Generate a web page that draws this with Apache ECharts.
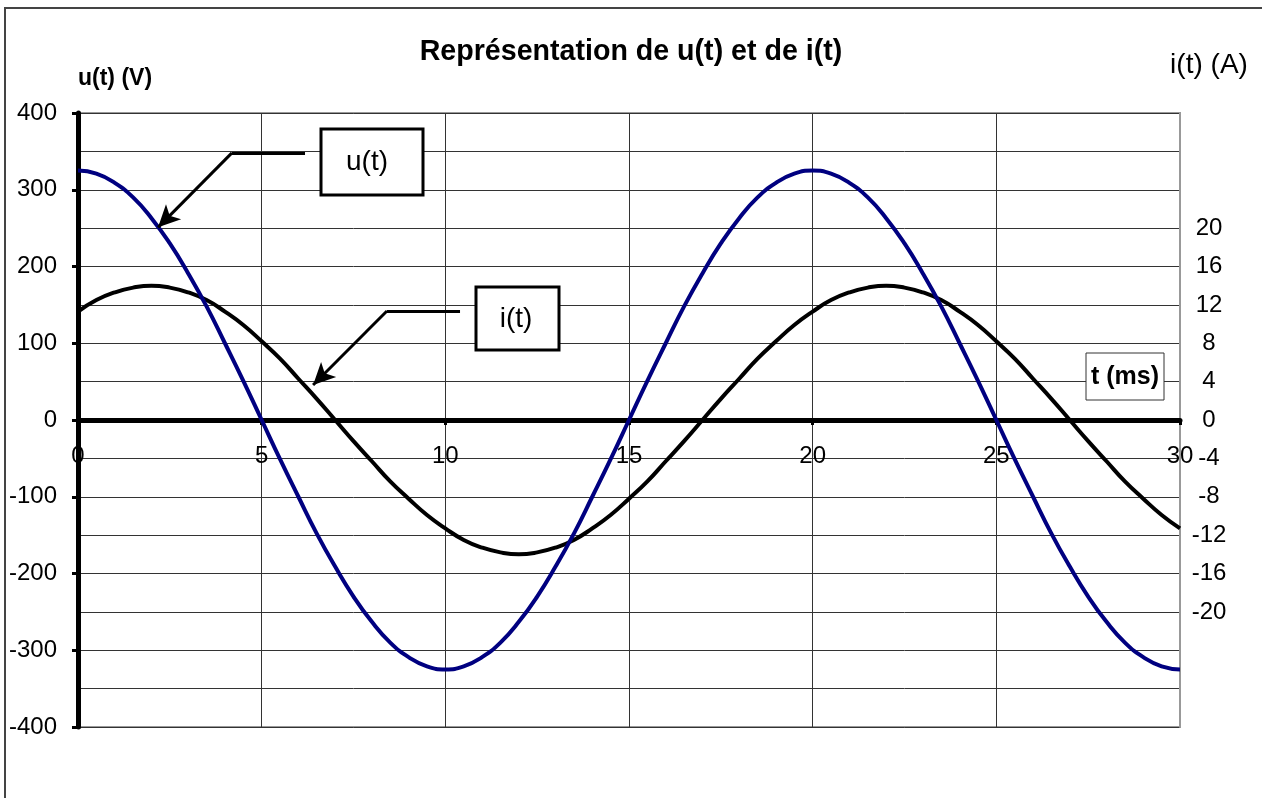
<!DOCTYPE html>
<html>
<head>
<meta charset="utf-8">
<title>u(t) et i(t)</title>
<script src="https://cdn.jsdelivr.net/npm/echarts@6/dist/echarts.min.js"></script>
<style>
    html, body { margin: 0; padding: 0; background: #fff; }
    #main { width: 1262px; height: 798px; }
</style>
</head>
<body>
<div id="main"></div>
<script>
// temps (ms)
let tValues = [0, 0.5, 1, 1.5, 2, 2.5, 3, 3.5, 4, 4.5, 5, 5.5, 6, 6.5, 7, 7.5, 8, 8.5, 9, 9.5,
    10, 10.5, 11, 11.5, 12, 12.5, 13, 13.5, 14, 14.5, 15, 15.5, 16, 16.5, 17, 17.5, 18, 18.5, 19, 19.5,
    20, 20.5, 21, 21.5, 22, 22.5, 23, 23.5, 24, 24.5, 25, 25.5, 26, 26.5, 27, 27.5, 28, 28.5, 29, 29.5, 30];

// tension u(t) en V
let uValues = [325, 321, 309, 290, 263, 230, 191, 148, 100, 51,
    0, -51, -100, -148, -191, -230, -263, -290, -309, -321,
    -325, -321, -309, -290, -263, -230, -191, -148, -100, -51,
    0, 51, 100, 148, 191, 230, 263, 290, 309, 321,
    325, 321, 309, 290, 263, 230, 191, 148, 100, 51,
    0, -51, -100, -148, -191, -230, -263, -290, -309, -321, -325];

// intensite i(t) en A
let iValues = [11.3, 12.5, 13.3, 13.8, 14, 13.8, 13.3, 12.5, 11.3, 9.9,
    8.2, 6.4, 4.3, 2.2, 0, -2.2, -4.3, -6.4, -8.2, -9.9,
    -11.3, -12.5, -13.3, -13.8, -14, -13.8, -13.3, -12.5, -11.3, -9.9,
    -8.2, -6.4, -4.3, -2.2, 0, 2.2, 4.3, 6.4, 8.2, 9.9,
    11.3, 12.5, 13.3, 13.8, 14, 13.8, 13.3, 12.5, 11.3, 9.9,
    8.2, 6.4, 4.3, 2.2, 0, -2.2, -4.3, -6.4, -8.2, -9.9, -11.3];

let titleText = 'Représentation de u(t) et de i(t)';
let uAxisName = 'u(t) (V)';
let iAxisName = 'i(t) (A)';
let tAxisName = 't (ms)';

let font = "'Liberation Sans', Arial, sans-serif";

let myChart = echarts.init(document.getElementById('main'));

let uData = tValues.map((t, k) => [t, uValues[k]]);
let iData = tValues.map((t, k) => [t, iValues[k]]);

let arrowStyle = {
    color: '#000',
    width: 3,
    type: 'solid'
};

let option = {
    animation: false,
    textStyle: { fontFamily: font },
    title: {
        text: titleText,
        left: 'center',
        top: 38,
        padding: 0,
        textStyle: { fontFamily: font, fontSize: 28.6, fontWeight: 'bold', color: '#000' }
    },
    grid: {
        left: 78,
        right: 82,
        top: 113,
        bottom: 71,
        show: true,
        borderColor: '#999',
        borderWidth: 2
    },
    xAxis: {
        type: 'value',
        min: 0,
        max: 30,
        interval: 5,
        position: 'bottom',
        // l'axe des temps passe par 0 : on le remonte au milieu du repere
        offset: -307,
        axisLine: { onZero: false, lineStyle: { color: '#000', width: 5 } },
        axisTick: { show: true, length: 5, lineStyle: { color: '#000', width: 3 } },
        axisLabel: { fontSize: 24, color: '#000', margin: 24, fontFamily: font },
        splitLine: { show: true, lineStyle: { color: '#333', width: 1 } }
    },
    yAxis: [
        {
            type: 'value',
            min: -400,
            max: 400,
            interval: 100,
            name: uAxisName,
            nameLocation: 'end',
            nameGap: 23,
            nameTextStyle: { fontFamily: font, fontSize: 23, fontWeight: 'bold', color: '#000', align: 'left' },
            axisLine: { show: true, onZero: false, lineStyle: { color: '#000', width: 5 } },
            axisTick: { show: true, length: 6, lineStyle: { color: '#000', width: 3 } },
            axisLabel: { fontSize: 24, color: '#000', margin: 21, fontFamily: font },
            splitLine: { show: true, lineStyle: { color: '#333', width: 1 } },
            minorTick: { show: false, splitNumber: 2 },
            minorSplitLine: { show: true, lineStyle: { color: '#333', width: 1 } }
        },
        {
            type: 'value',
            position: 'right',
            min: -32,
            max: 32,
            interval: 4,
            axisLine: { show: true, onZero: false, lineStyle: { color: '#999', width: 2 } },
            axisTick: { show: false },
            axisLabel: {
                fontSize: 24,
                color: '#000',
                margin: 29,
                align: 'center',
                fontFamily: font,
                formatter: (v) => (Math.abs(v) > 20 ? '' : String(v))
            },
            splitLine: { show: false }
        }
    ],
    series: [
        {
            name: 'i(t)',
            type: 'line',
            yAxisIndex: 1,
            data: iData,
            smooth: true,
            showSymbol: false,
            silent: true,
            lineStyle: { color: '#000', width: 4 },
            markLine: {
                silent: true,
                animation: false,
                label: { show: false },
                lineStyle: arrowStyle,
                emphasis: { disabled: true },
                data: [
                    [{ coord: [10.4, 11.36], symbol: 'none' }, { coord: [8.41, 11.36], symbol: 'none' }],
                    [{ coord: [8.41, 11.36], symbol: 'none' }, { coord: [6.4, 3.65], symbol: 'arrow', symbolSize: [16, 22] }]
                ]
            }
        },
        {
            name: 'u(t)',
            type: 'line',
            yAxisIndex: 0,
            data: uData,
            smooth: true,
            showSymbol: false,
            silent: true,
            lineStyle: { color: '#000080', width: 4 },
            markLine: {
                silent: true,
                animation: false,
                label: { show: false },
                lineStyle: arrowStyle,
                emphasis: { disabled: true },
                data: [
                    [{ coord: [6.18, 348], symbol: 'none' }, { coord: [4.19, 348], symbol: 'none' }],
                    [{ coord: [4.19, 348], symbol: 'none' }, { coord: [2.18, 251], symbol: 'arrow', symbolSize: [16, 22] }]
                ]
            }
        }
    ],
    graphic: [
        // cadre exterieur
        {
            type: 'rect',
            silent: true,
            shape: { x: 5, y: 8, width: 1270, height: 800 },
            style: { fill: 'none', stroke: '#444', lineWidth: 2 }
        },
        // nom de l'axe de droite
        {
            type: 'text',
            style: { text: iAxisName, x: 1209, y: 65, font: '28px ' + font, textAlign: 'center', textVerticalAlign: 'middle', fill: '#000' }
        },
        // etiquette u(t)
        {
            type: 'rect',
            z: 100,
            shape: { x: 321, y: 129, width: 102, height: 66 },
            style: { fill: '#fff', stroke: '#000', lineWidth: 3 }
        },
        {
            type: 'text',
            z: 101,
            style: { text: 'u(t)', x: 367, y: 162, font: '28px ' + font, textAlign: 'center', textVerticalAlign: 'middle', fill: '#000' }
        },
        // etiquette i(t)
        {
            type: 'rect',
            z: 100,
            shape: { x: 476, y: 287, width: 83, height: 63 },
            style: { fill: '#fff', stroke: '#000', lineWidth: 3 }
        },
        {
            type: 'text',
            z: 101,
            style: { text: 'i(t)', x: 516, y: 319, font: '28px ' + font, textAlign: 'center', textVerticalAlign: 'middle', fill: '#000' }
        },
        // nom de l'axe des temps
        {
            type: 'rect',
            z: 100,
            shape: { x: 1086, y: 353, width: 78, height: 47 },
            style: { fill: '#fff', stroke: '#333', lineWidth: 1 }
        },
        {
            type: 'text',
            z: 101,
            style: { text: tAxisName, x: 1125, y: 377, font: 'bold 25px ' + font, textAlign: 'center', textVerticalAlign: 'middle', fill: '#000' }
        }
    ]
};

myChart.setOption(option);
</script>
</body>
</html>
